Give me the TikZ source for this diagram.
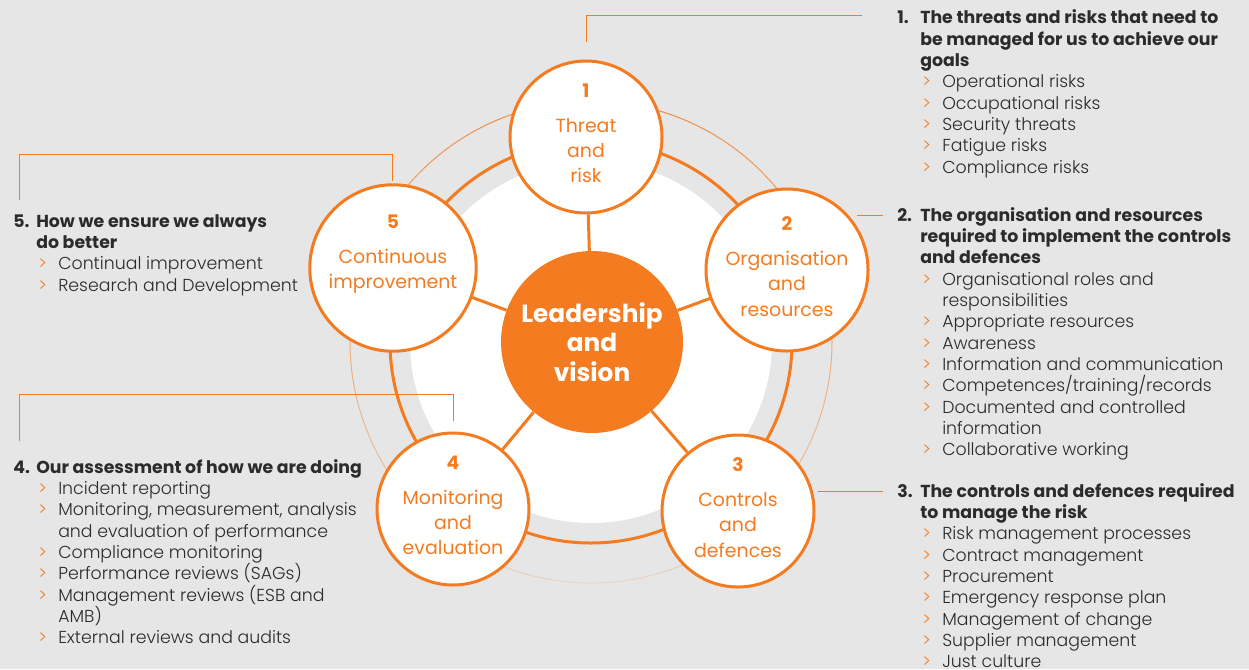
\documentclass[tikz,border=0pt]{standalone}
\usepackage{fontspec}
\setmainfont{Poppins}
\newfontfamily\lightfont{Poppins}[UprightFont=* Light, BoldFont=* Bold]

\definecolor{ora}{HTML}{F47B20}
\definecolor{bg}{HTML}{E6E6E6}
\definecolor{txt}{HTML}{2B2B2B}

\newdimen\px \px=0.75pt
% heading line / continued heading line / bullet / continued bullet
\newcommand{\hd}[2]{\textbf{\makebox[23\px][l]{#1}#2}}
\newcommand{\hdx}[1]{\hspace*{23\px}\textbf{#1}}
\newcommand{\itm}[1]{\hspace*{25\px}\makebox[20\px][l]{\textcolor{ora}{>}}#1}
\newcommand{\itx}[1]{\hspace*{45\px}#1}
\newcommand{\num}[1]{{\bfseries\fontsize{14}{16}\selectfont #1}}
% small empty line at the foot, lifts the label a little
\newcommand{\tail}{\\[-13.75pt]\mbox{}}

\tikzset{
  stage/.style={circle, draw=ora, line width=2.25pt, fill=white, minimum size=114pt, inner sep=0pt,
    align=center, text=ora, font=\fontsize{14.2}{19}\selectfont},
  hub/.style={circle, fill=ora, minimum size=136.5pt, inner sep=0pt, align=center, text=white,
    font=\bfseries\fontsize{18.6}{22}\selectfont},
  spoke/.style={draw=ora, line width=2.25pt},
  callout/.style={draw=ora, line width=0.75pt},
  % anchored on the baseline of the last line
  blk/.style={anchor=base west, inner sep=0pt, align=left, text=txt, font=\lightfont\fontsize{13}{16}\selectfont}
}

\begin{document}
\begin{tikzpicture}[x=0.75pt,y=0.75pt,yscale=-1,xscale=1]
\path[use as bounding box, fill=bg] (0,0) rectangle (1249,669);

%Shape: outer thin ring, fading from top to bottom
\foreach \a in {0,5,...,175} {
  \pgfmathsetmacro\p{int(92-\a*0.44)}
  \draw[ora!\p!bg, line width=0.75pt] (591,342) ++(-90+\a:180.75pt) arc[start angle=-90+\a, end angle=-85+\a, radius=180.75pt];
  \draw[ora!\p!bg, line width=0.75pt] (591,342) ++(-90-\a:180.75pt) arc[start angle=-90-\a, end angle=-95-\a, radius=180.75pt];
}
%Shape: white disc and thick ring
\fill[white] (591,342) circle [radius=135.75pt];
\draw[ora, line width=2.25pt] (591,342) circle [radius=150.75pt];

%Shape: centre and stages
\node[hub] (hub) at (592,342) {Leadership\\and\\vision};
\node[stage] (c1) at (586,137) {\num{1}\\[7pt]Threat\\and\\risk\tail};
\node[stage] (c2) at (787,270) {\num{2}\\[7pt]Organisation\\and\\resources\tail};
\node[stage] (c3) at (738,511) {\num{3}\\[7pt]Controls\\and\\defences\tail};
\node[stage] (c4) at (453,509) {\num{4}\\[7pt]Monitoring\\and\\evaluation\tail};
\node[stage] (c5) at (393,268) {\num{5}\\[7pt]Continuous\\improvement\\\mbox{}\tail};

%Straight Lines: spokes
\foreach \s in {c1,c2,c3,c4,c5}
  \draw[spoke] (hub) -- (\s);

%Straight Lines: callouts
\coordinate (k1a) at (586,42);  \coordinate (k1b) at (862,15);
\coordinate (k2a) at (857,215); \coordinate (k2b) at (883,215);
\coordinate (k3a) at (818,491); \coordinate (k3b) at (883,491);
\coordinate (k5a) at (19,200);  \coordinate (k5m) at (392,154); \coordinate (k5b) at (392,181);
\coordinate (k4a) at (19,441);  \coordinate (k4m) at (453,394); \coordinate (k4b) at (453,421);
\draw[callout] (k1a) |- (k1b);
\draw[callout] (k2a) -- (k2b);
\draw[callout] (k3a) -- (k3b);
\draw[callout] (k5a) |- (k5m) -- (k5b);
\draw[callout] (k4a) |- (k4m) -- (k4b);

% Text Node
\node[blk] (t1) at (897,173.3) {\hd{1.}{The threats and risks that need to}\\
  \hdx{be managed for us to achieve our}\\
  \hdx{goals}\\
  \itm{Operational risks}\\
  \itm{Occupational risks}\\
  \itm{Security threats}\\
  \itm{Fatigue risks}\\
  \itm{Compliance risks}};
% Text Node
\node[blk] (t2) at (897,455.7) {\hd{2.}{The organisation and resources}\\
  \hdx{required to implement the controls}\\
  \hdx{and defences}\\
  \itm{Organisational roles and}\\
  \itx{responsibilities}\\
  \itm{Appropriate resources}\\
  \itm{Awareness}\\
  \itm{Information and communication}\\
  \itm{Competences/training/records}\\
  \itm{Documented and controlled}\\
  \itx{information}\\
  \itm{Collaborative working}};
% Text Node
\node[blk] (t3) at (897,667.7) {\hd{3.}{The controls and defences required}\\
  \hdx{to manage the risk}\\
  \itm{Risk management processes}\\
  \itm{Contract management}\\
  \itm{Procurement}\\
  \itm{Emergency response plan}\\
  \itm{Management of change}\\
  \itm{Supplier management}\\
  \itm{Just culture}};
% Text Node
\node[blk] (t5) at (13,291) {\hd{5.}{How we ensure we always}\\
  \hdx{do better}\\
  \itm{Continual improvement}\\
  \itm{Research and Development}};
% Text Node
\node[blk] (t4) at (13,643.7) {\hd{4.}{Our assessment of how we are doing}\\
  \itm{Incident reporting}\\
  \itm{Monitoring, measurement, analysis}\\
  \itx{and evaluation of performance}\\
  \itm{Compliance monitoring}\\
  \itm{Performance reviews (SAGs)}\\
  \itm{Management reviews (ESB and}\\
  \itx{AMB)}\\
  \itm{External reviews and audits}};

\end{tikzpicture}
\end{document}
